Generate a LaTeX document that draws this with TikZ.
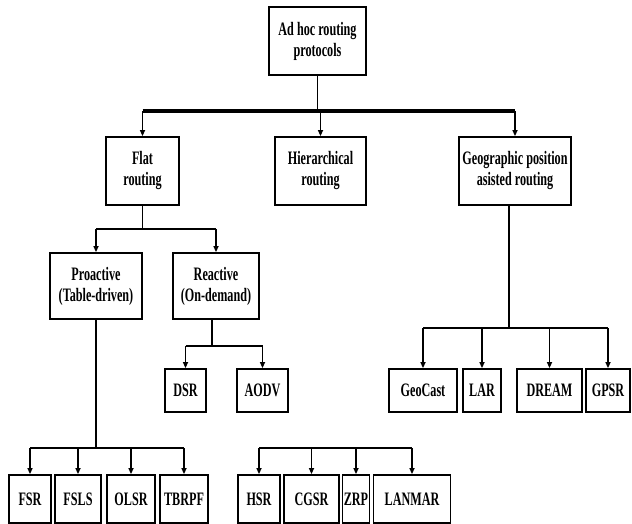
\documentclass[tikz,border=0pt]{standalone}
\usepackage{fontspec}
\setmainfont{Liberation Serif}[FakeStretch=0.64]
\usetikzlibrary{arrows.meta}
\begin{document}
\begin{tikzpicture}[x=1pt,y=-1pt,
		every node/.style={draw,line width=1.8pt,align=center,inner sep=0pt,
			font=\bfseries\fontsize{19}{21}\selectfont},
		top/.style={minimum height=68pt},
		mid/.style={minimum height=66pt},
		leaf/.style={minimum height=43pt},
		low/.style={minimum height=48pt},
		link/.style={line width=1.5pt},
		tip/.style={link,-{Triangle[length=6pt,width=5pt]}}]
\useasboundingbox (0,0) rectangle (632,524);
% boxes
\node[top,minimum width=97pt] (root) at (317.5,41) {Ad hoc routing\\protocols};
\node[top,minimum width=73pt] (flat) at (142.5,171) {Flat\\routing};
\node[top,minimum width=91pt] (hier) at (320.5,171) {Hierarchical\\routing};
\node[top,minimum width=112pt] (geo) at (515,171) {Geographic position\\asisted routing};
\node[mid,minimum width=92pt] (pro) at (96,286) {Proactive\\(Table-driven)};
\node[mid,minimum width=86pt] (rea) at (216,286) {Reactive\\(On-demand)};
\node[leaf,minimum width=41pt] (dsr) at (185.5,390.5) {DSR};
\node[leaf,minimum width=51pt] (aodv) at (262.5,390.5) {AODV};
\node[leaf,minimum width=68pt] (geocast) at (423,390.5) {GeoCast};
\node[leaf,minimum width=38pt] (lar) at (482,390.5) {LAR};
\node[leaf,minimum width=65pt] (dream) at (549.5,390.5) {DREAM};
\node[leaf,minimum width=44pt] (gpsr) at (608,390.5) {GPSR};
\node[low,minimum width=42pt] (fsr) at (30,499) {FSR};
\node[low,minimum width=46pt] (fsls) at (78,499) {FSLS};
\node[low,minimum width=48pt] (olsr) at (131,499) {OLSR};
\node[low,minimum width=48pt] (tbrpf) at (184,499) {TBRPF};
\node[low,minimum width=42pt] (hsr) at (259,499) {HSR};
\node[low,minimum width=55pt] (cgsr) at (311.5,499) {CGSR};
\node[low,minimum width=27pt] (zrp) at (356,499) {ZRP};
\node[low,minimum width=77pt] (lanmar) at (412,499) {LANMAR};
% bus points
\coordinate (b0) at (317.5,111);
\coordinate (b1) at (142.5,229);
\coordinate (b2) at (96,448);
\coordinate (b3) at (212,346);
\coordinate (b4) at (509,328);
\coordinate (b5) at (259,448);
% links
\draw[line width=3.5pt] (flat.north |- b0) -- (geo.north |- b0);
\draw[link] (root) -- (b0);
\foreach \n in {flat,hier,geo}
	\draw[tip] (\n.north |- b0) -- (\n.north);
\draw[link] (flat) -- (b1);
\draw[link] (pro.north |- b1) -- (rea.north |- b1);
\foreach \n in {pro,rea}
	\draw[tip] (\n.north |- b1) -- (\n.north);
\draw[link] (pro) -- (b2);
\draw[link] (fsr.north |- b2) -- (tbrpf.north |- b2);
\foreach \n in {fsr,fsls,olsr,tbrpf}
	\draw[tip] (\n.north |- b2) -- (\n.north);
\draw[link] (rea.south -| b3) -- (b3);
\draw[link] (dsr.north |- b3) -- (aodv.north |- b3);
\foreach \n in {dsr,aodv}
	\draw[tip] (\n.north |- b3) -- (\n.north);
\draw[link] (geo.south -| b4) -- (b4);
\draw[link] (geocast.north |- b4) -- (gpsr.north |- b4);
\foreach \n in {geocast,lar,dream,gpsr}
	\draw[tip] (\n.north |- b4) -- (\n.north);
\draw[link] (hsr.north |- b5) -- (lanmar.north |- b5);
\foreach \n in {hsr,cgsr,zrp,lanmar}
	\draw[tip] (\n.north |- b5) -- (\n.north);
\end{tikzpicture}
\end{document}
